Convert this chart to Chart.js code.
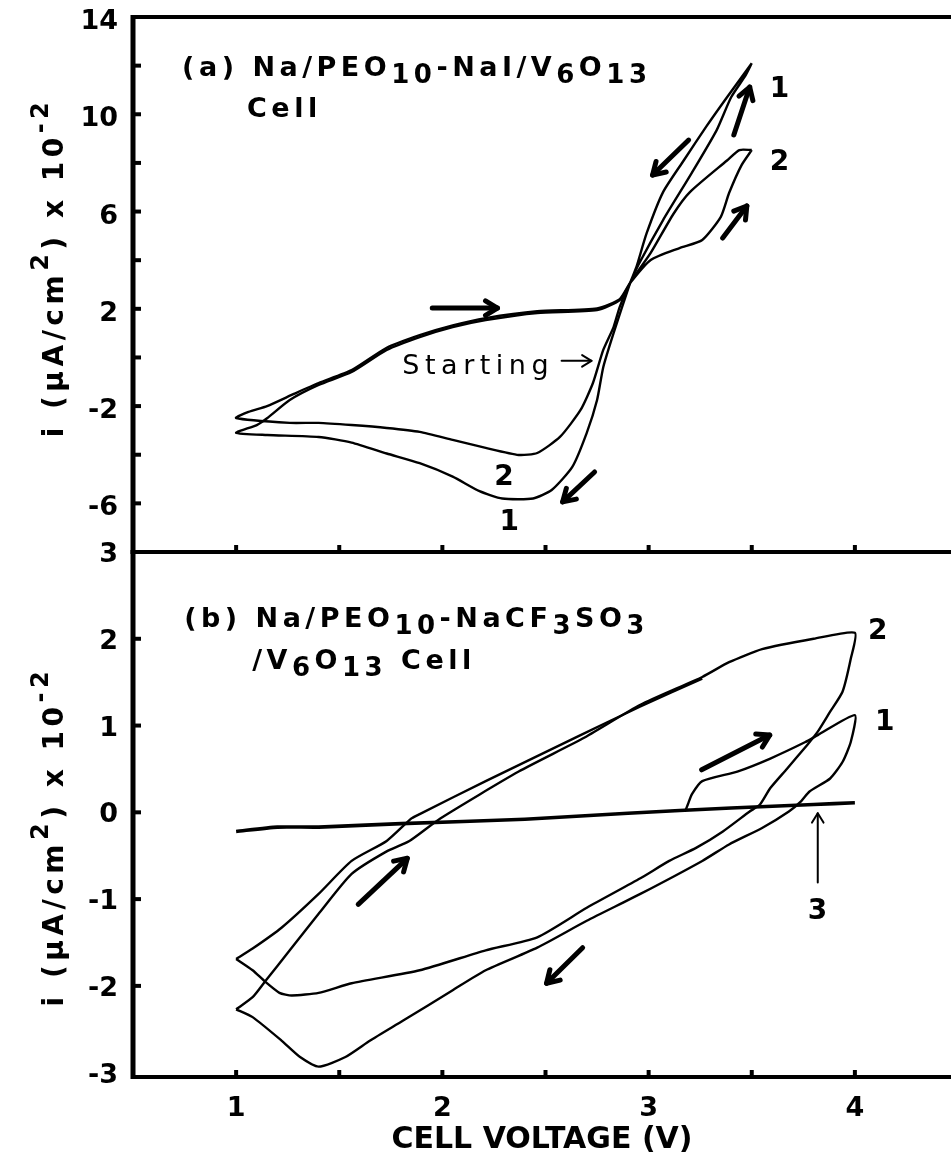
<!DOCTYPE html>
<html>
<head>
<meta charset="utf-8">
<title>Cyclic voltammograms</title>
<script src="https://cdn.jsdelivr.net/npm/chart.js@4.4.1/dist/chart.umd.min.js"></script>
<style>
    html, body { margin: 0; padding: 0; background: #fff; }
    #wrap { position: relative; width: 951px; height: 1158px; overflow: hidden; }
    #chartA { position: absolute; left: 0; top: 0; }
    #chartB { position: absolute; left: 0; top: 540px; }
</style>
</head>
<body>
<div id="wrap">
    <canvas id="chartA" width="951" height="560"></canvas>
    <canvas id="chartB" width="951" height="618"></canvas>
</div>
<script>
// ---- axes ----
const X_MIN = 0.5;
const X_MAX = 4.466;          // right edge of the original is cropped
const xLabelVals = [1, 2, 3, 4];
const xMarkVals = [1, 1.5, 2, 2.5, 3, 3.5, 4];

const yLabelsA = [14, 10, 6, 2, -2, -6];
const yMarksA = [12, 10, 8, 6, 4, 2, 0, -2, -4, -6];
const yLabelsB = [3, 2, 1, 0, -1, -2, -3];
const yMarksB = [2, 1, 0, -1, -2];

// ---- panel (a): Na/PEO10-NaI/V6O13, i in uA/cm2 x 1e-2 ----
const a1Volt = [3.50, 3.38, 3.28, 3.17, 3.07, 2.99, 2.94, 2.91, 2.83, 2.78, 2.75, 2.70, 2.63, 2.53,
    2.44, 2.29, 2.18, 2.05, 1.89, 1.73, 1.56, 1.40, 1.15, 1.00,
    1.10, 1.15, 1.26, 1.40, 1.56, 1.73, 1.89, 2.05, 2.21, 2.46, 2.75, 2.86, 2.91, 2.95, 3.07,
    3.21, 3.33, 3.40, 3.47, 3.50];
const a1Curr = [12.1, 10.7, 9.5, 8.1, 6.8, 5.1, 3.7, 3.06, 1.0, -0.4, -1.75, -3.1, -4.5, -5.45,
    -5.8, -5.8, -5.5, -4.9, -4.35, -3.95, -3.5, -3.27, -3.19, -3.1,
    -2.78, -2.5, -1.75, -1.13, -0.6, 0.31, 0.84, 1.25, 1.54, 1.83, 1.95, 2.36, 3.06, 3.8, 5.65,
    7.6, 9.35, 10.7, 11.6, 12.1];

const a2Volt = [3.50, 3.44, 3.38, 3.20, 3.12, 3.01, 2.91, 2.86, 2.83, 2.78, 2.73, 2.67, 2.57, 2.46,
    2.37, 2.21, 2.05, 1.89, 1.73, 1.56, 1.40, 1.26, 1.00,
    1.06, 1.15, 1.28, 1.40, 1.56, 1.73, 1.89, 2.05, 2.21, 2.46, 2.75, 2.86, 2.91, 3.01, 3.15,
    3.26, 3.35, 3.39, 3.45, 3.50];
const a2Curr = [8.53, 8.53, 8.1, 6.8, 5.9, 4.3, 3.06, 2.08, 1.25, 0.31, -1.05, -2.16, -3.27, -3.93,
    -4.01, -3.72, -3.39, -3.06, -2.9, -2.78, -2.69, -2.69, -2.49,
    -2.24, -2.0, -1.5, -1.05, -0.52, 0.4, 0.92, 1.32, 1.62, 1.9, 2.02, 2.4, 3.06, 4.01, 4.5,
    4.83, 5.78, 6.76, 7.9, 8.53];

// ---- panel (b): Na/PEO10-NaCF3SO3/V6O13 ----
const b1Volt = [3.18, 3.19, 3.21, 3.26, 3.43, 3.59, 3.76, 3.82, 4.00,
    3.98, 3.94, 3.88, 3.78, 3.74, 3.68, 3.55, 3.39, 3.26, 2.96, 2.70, 2.46, 2.21, 2.05, 1.81,
    1.65, 1.53, 1.40, 1.31, 1.22, 1.08, 1.00];
const b1Curr = [0.03, 0.09, 0.21, 0.36, 0.47, 0.62, 0.81, 0.89, 1.12,
    0.81, 0.58, 0.39, 0.24, 0.13, 0.01, -0.18, -0.37, -0.56, -0.94, -1.25, -1.56, -1.82, -2.05, -2.40,
    -2.63, -2.82, -2.93, -2.82, -2.63, -2.36, -2.27];

const b2Volt = [1.00, 1.08, 1.14, 1.26, 1.40, 1.56, 1.73, 1.84, 1.99, 2.37, 2.68, 2.96, 3.26, 3.39,
    3.55, 3.80, 4.00,
    3.98, 3.94, 3.88, 3.82, 3.77, 3.67, 3.59, 3.54, 3.49, 3.36, 3.23, 3.10, 2.96, 2.70, 2.46,
    2.21, 1.89, 1.56, 1.40, 1.27, 1.21, 1.14, 1.08, 1.00];
const b2Curr = [-2.27, -2.13, -1.95, -1.59, -1.17, -0.71, -0.45, -0.33, -0.07, 0.47, 0.85, 1.24, 1.56, 1.73,
    1.88, 2.0, 2.07,
    1.77, 1.39, 1.16, 0.93, 0.78, 0.50, 0.28, 0.09, 0.01, -0.22, -0.41, -0.56, -0.76, -1.10, -1.44,
    -1.59, -1.82, -1.97, -2.08, -2.11, -2.08, -1.95, -1.82, -1.69];

const b2bVolt = [1.00, 1.08, 1.22, 1.40, 1.56, 1.73, 1.85, 1.89, 2.21, 2.67, 2.96, 3.26];
const b2bCurr = [-1.69, -1.57, -1.33, -0.94, -0.56, -0.33, -0.07, -0.02, 0.36, 0.89, 1.22, 1.54];

const b3Volt = [1.00, 1.20, 1.40, 1.80, 2.40, 2.90, 3.40, 3.80, 4.00];
const b3Curr = [-0.22, -0.17, -0.17, -0.13, -0.08, -0.01, 0.05, 0.09, 0.11];

// ---- text styles ----
const FAMILY = '"DejaVu Sans"';
const STYLES = {
    title: { font: 'bold 27px ' + FAMILY, small: 'bold 26px ' + FAMILY, spacing: '4.5px', sub: 7, sup: 12 },
    plain: { font: '27px ' + FAMILY, small: '24px ' + FAMILY, spacing: '5.5px', sub: 7, sup: 12 },
    num: { font: 'bold 28px ' + FAMILY, small: 'bold 24px ' + FAMILY, spacing: '0px', sub: 7, sup: 12 },
    axis: { font: 'bold 28px ' + FAMILY, small: 'bold 24px ' + FAMILY, spacing: '4.5px', sub: 7, sup: 15 }
};

const Y_TITLE = [['i (\u00b5A/cm', 0], ['2', -1], [') x 10', 0], ['-2', -1]];

/**
 * Turn two value arrays into Chart.js points
 */
function toPoints(volts, currents) {
    return volts.map((v, k) => ({ x: v, y: currents[k] }));
}

function curve(volts, currents, width = 2.4) {
    return {
        data: toPoints(volts, currents),
        showLine: true,
        borderColor: '#000',
        borderWidth: width,
        pointRadius: 0,
        tension: 0.2,
        fill: false
    };
}

function line(ctx, x1, y1, x2, y2) {
    ctx.beginPath();
    ctx.moveTo(x1, y1);
    ctx.lineTo(x2, y2);
    ctx.stroke();
}

/**
 * Draw text made of normal / sub (1) / sup (-1) runs, returns width
 */
function drawRuns(ctx, runs, x, y, style, measureOnly = false) {
    let cx = x;
    ctx.letterSpacing = style.spacing;
    runs.forEach(([text, kind]) => {
        ctx.font = kind === 0 ? style.font : style.small;
        const dy = kind === 1 ? style.sub : (kind === -1 ? -style.sup : 0);
        if (!measureOnly) ctx.fillText(text, cx, y + dy);
        cx += ctx.measureText(text).width;
    });
    ctx.letterSpacing = '0px';
    return cx - x;
}

function drawArrow(ctx, x1, y1, x2, y2, width, head) {
    const ang = Math.atan2(y2 - y1, x2 - x1);
    ctx.lineWidth = width;
    ctx.lineCap = 'round';
    ctx.lineJoin = 'round';
    line(ctx, x1, y1, x2, y2);
    ctx.beginPath();
    ctx.moveTo(x2 - head * Math.cos(ang - 0.55), y2 - head * Math.sin(ang - 0.55));
    ctx.lineTo(x2, y2);
    ctx.lineTo(x2 - head * Math.cos(ang + 0.55), y2 - head * Math.sin(ang + 0.55));
    ctx.stroke();
}

/**
 * Frame, inward tick marks, rotated y title, labels and arrows
 */
const panelDecor = {
    id: 'panelDecor',
    afterDraw(chart, args, opts) {
        const { ctx, chartArea: area } = chart;
        const xs = chart.scales.x;
        const ys = chart.scales.y;
        ctx.save();
        ctx.strokeStyle = '#000';
        ctx.fillStyle = '#000';
        ctx.textBaseline = 'alphabetic';
        ctx.textAlign = 'left';

        // frame (no right side, it is cut off)
        ctx.lineCap = 'butt';
        ctx.lineWidth = 4;
        line(ctx, area.left, area.top, area.right, area.top);
        line(ctx, area.left, area.bottom, area.right, area.bottom);
        ctx.lineWidth = 5;
        line(ctx, area.left, area.top - 2, area.left, area.bottom + 2);

        ctx.lineWidth = 4;
        opts.yMarks.forEach(v => {
            const py = ys.getPixelForValue(v);
            line(ctx, area.left, py, area.left + 8, py);
        });
        xMarkVals.forEach(v => {
            const px = xs.getPixelForValue(v);
            line(ctx, px, area.bottom, px, area.bottom - 7);
        });

        // rotated y title, centred on a data value
        const cy = ys.getPixelForValue(opts.titleCenter);
        const w = drawRuns(ctx, Y_TITLE, 0, 0, STYLES.axis, true);
        ctx.save();
        ctx.translate(opts.titleX, cy + w / 2);
        ctx.rotate(-Math.PI / 2);
        drawRuns(ctx, Y_TITLE, 0, 0, STYLES.axis);
        ctx.restore();

        opts.texts.forEach(t => {
            drawRuns(ctx, t.runs, xs.getPixelForValue(t.x), ys.getPixelForValue(t.y), STYLES[t.style]);
        });

        opts.arrows.forEach(a => {
            drawArrow(ctx,
                xs.getPixelForValue(a.from[0]), ys.getPixelForValue(a.from[1]),
                xs.getPixelForValue(a.to[0]), ys.getPixelForValue(a.to[1]),
                a.thin ? 2 : 5, a.thin ? 11 : 14);
        });
        ctx.restore();
    }
};

const tickFont = { family: 'DejaVu Sans', size: 27, weight: 'bold' };

function yScale(min, max, labels, labelOffset) {
    return {
        type: 'linear',
        min: min,
        max: max,
        afterBuildTicks: s => { s.ticks = labels.map(v => ({ value: v })); },
        afterFit: s => {
            // fixed gutter, and no extra room for half-labels at the ends
            s.width = 133;
            s.paddingTop = 0;
            s.paddingBottom = 0;
        },
        ticks: { font: tickFont, color: '#000', padding: 15, labelOffset: labelOffset },
        grid: { display: false, drawTicks: false },
        border: { display: false }
    };
}

const chartA = new Chart(document.getElementById('chartA'), {
    type: 'scatter',
    data: {
        datasets: [curve(a1Volt, a1Curr), curve(a2Volt, a2Curr)]
    },
    options: {
        responsive: false,
        animation: false,
        layout: { padding: { top: 17, right: 0, bottom: 8, left: 0 } },
        plugins: {
            legend: { display: false },
            tooltip: { enabled: false },
            panelDecor: {
                yMarks: yMarksA,
                titleX: 63,
                titleCenter: 3.7,
                texts: [
                    { x: 0.738, y: 11.57, style: 'title',
                      runs: [['(a) Na/PEO', 0], ['10', 1], ['-NaI/V', 0], ['6', 1], ['O', 0], ['13', 1]] },
                    { x: 1.053, y: 9.89, style: 'title', runs: [['Cell', 0]] },
                    { x: 3.587, y: 10.71, style: 'num', runs: [['1', 0]] },
                    { x: 3.587, y: 7.71, style: 'num', runs: [['2', 0]] },
                    { x: 1.806, y: -0.68, style: 'plain', runs: [['Starting', 0]] },
                    { x: 2.252, y: -5.24, style: 'num', runs: [['2', 0]] },
                    { x: 2.277, y: -7.09, style: 'num', runs: [['1', 0]] }
                ],
                arrows: [
                    { from: [1.951, 2.03], to: [2.267, 2.03] },
                    { from: [3.194, 8.94], to: [3.019, 7.50] },
                    { from: [3.413, 9.15], to: [3.490, 11.12] },
                    { from: [3.359, 4.91], to: [3.476, 6.23] },
                    { from: [2.738, -4.71], to: [2.583, -5.94] },
                    { from: [2.578, -0.14], to: [2.723, -0.14], thin: true }
                ]
            }
        },
        scales: {
            x: { type: 'linear', min: X_MIN, max: X_MAX, display: false },
            y: yScale(-8, 14, yLabelsA, 5)
        }
    },
    plugins: [panelDecor]
});

const chartB = new Chart(document.getElementById('chartB'), {
    type: 'scatter',
    data: {
        datasets: [
            curve(b3Volt, b3Curr, 3.6),
            curve(b1Volt, b1Curr),
            curve(b2Volt, b2Curr),
            curve(b2bVolt, b2bCurr)
        ]
    },
    options: {
        responsive: false,
        animation: false,
        layout: { padding: { top: 12, right: 0, bottom: 0, left: 0 } },
        plugins: {
            legend: { display: false },
            tooltip: { enabled: false },
            panelDecor: {
                yMarks: yMarksB,
                titleX: 63,
                titleCenter: -0.28,
                texts: [
                    { x: 0.748, y: 2.13, style: 'title',
                      runs: [['(b) Na/PEO', 0], ['10', 1], ['-NaCF', 0], ['3', 1], ['SO', 0], ['3', 1]] },
                    { x: 1.078, y: 1.65, style: 'title',
                      runs: [['/V', 0], ['6', 1], ['O', 0], ['13', 1], [' Cell', 0]] },
                    { x: 4.063, y: 2.0, style: 'num', runs: [['2', 0]] },
                    { x: 4.097, y: 0.95, style: 'num', runs: [['1', 0]] },
                    { x: 3.772, y: -1.23, style: 'num', runs: [['3', 0]] }
                ],
                arrows: [
                    { from: [3.257, 0.49], to: [3.587, 0.89] },
                    { from: [1.592, -1.06], to: [1.830, -0.53] },
                    { from: [2.680, -1.56], to: [2.505, -1.97] },
                    { from: [3.820, -0.81], to: [3.820, -0.01], thin: true }
                ]
            }
        },
        scales: {
            x: {
                type: 'linear',
                min: X_MIN,
                max: X_MAX,
                afterBuildTicks: s => { s.ticks = xLabelVals.map(v => ({ value: v })); },
                afterFit: s => {
                    s.height = 81;
                    s.paddingLeft = 0;
                    s.paddingRight = 0;
                },
                ticks: { font: tickFont, color: '#000', padding: 16 },
                grid: { display: false, drawTicks: false },
                border: { display: false },
                title: {
                    display: true,
                    text: 'CELL VOLTAGE (V)',
                    color: '#000',
                    font: { family: 'DejaVu Sans', size: 30, weight: 'bold' },
                    padding: { top: 0, bottom: 0 }
                }
            },
            y: yScale(-3.05, 3.0, yLabelsB, 3)
        }
    },
    plugins: [panelDecor]
});
</script>
</body>
</html>
